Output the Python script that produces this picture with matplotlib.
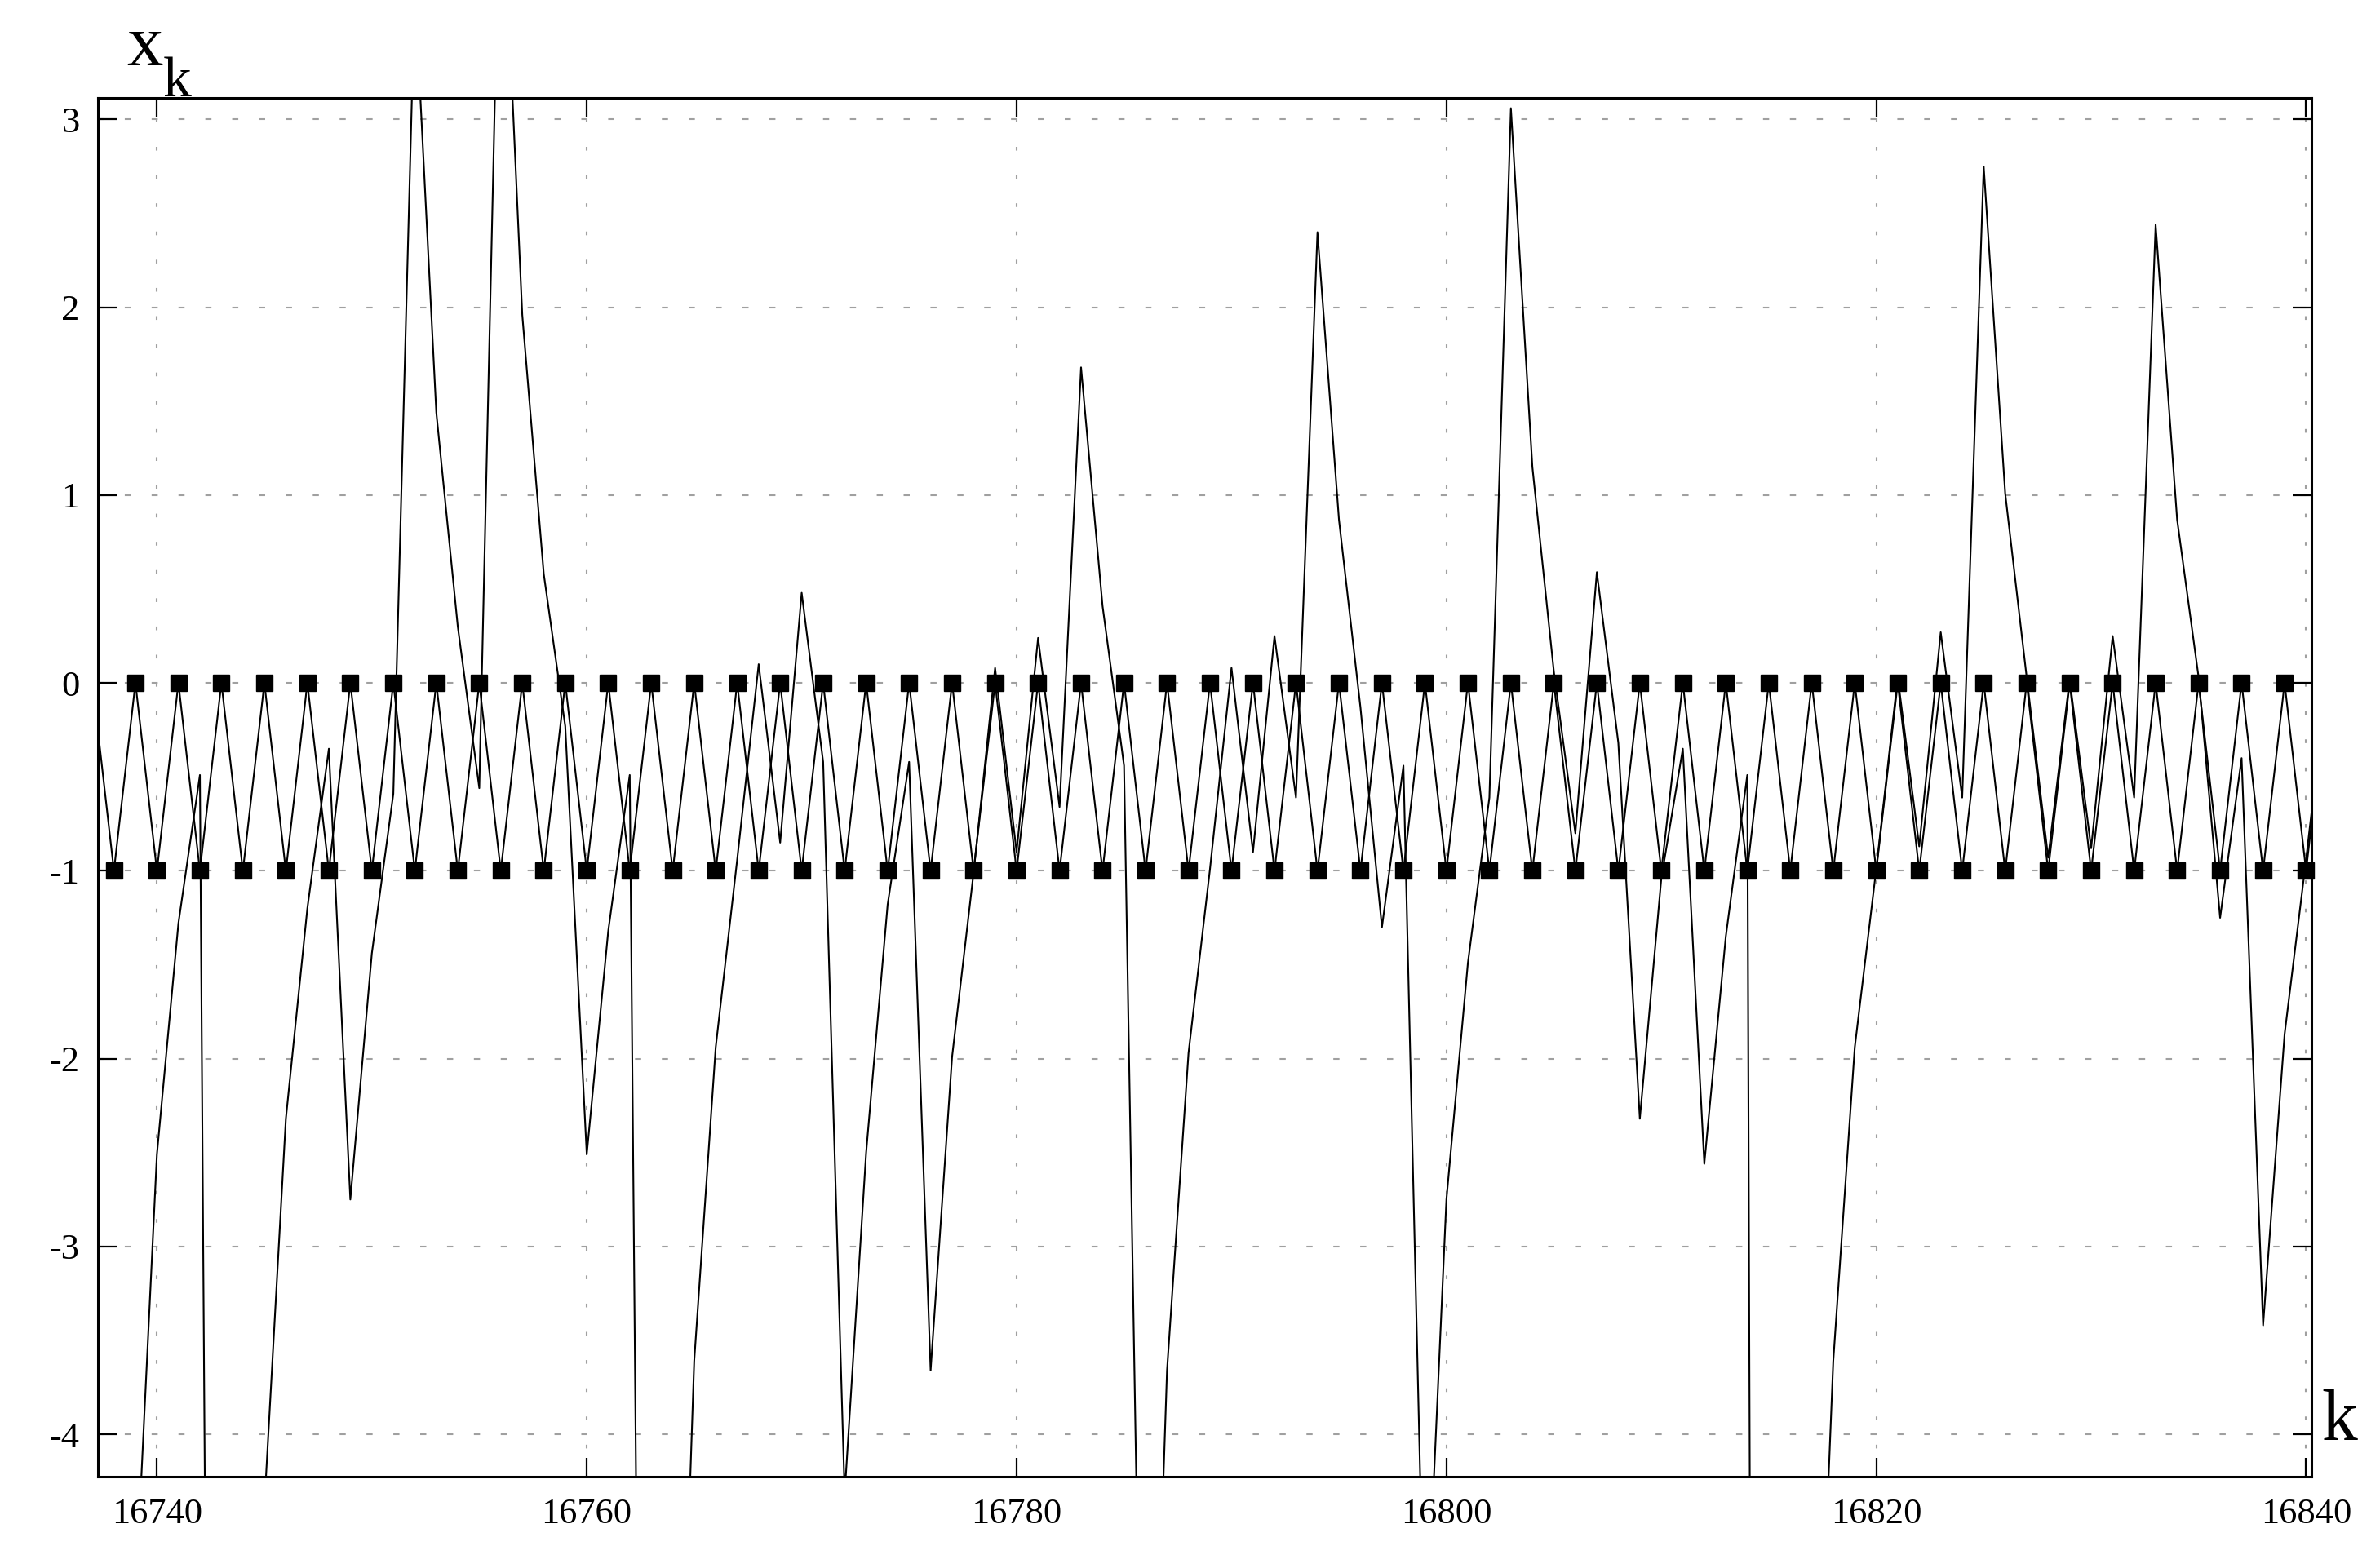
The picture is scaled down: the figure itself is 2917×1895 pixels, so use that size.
import numpy as np
import matplotlib
matplotlib.use("Agg")
import matplotlib.pyplot as plt

plt.rcParams['font.family'] = ['Liberation Serif', 'DejaVu Serif']
plt.rcParams['axes.unicode_minus'] = False

# iteration index k, first value at 16737
k_start = 16737

# periodic orbit (period 2), one value per k from 16737 to 16841
periodic = [0, -1, 0, -1, 0, -1, 0, -1, 0, -1, 0, -1, 0, -1, 0, -1, 0, -1, 0, -1,
            0, -1, 0, -1, 0, -1, 0, -1, 0, -1, 0, -1, 0, -1, 0, -1, 0, -1, 0, -1,
            0, -1, 0, -1, 0, -1, 0, -1, 0, -1, 0, -1, 0, -1, 0, -1, 0, -1, 0, -1,
            0, -1, 0, -1, 0, -1, 0, -1, 0, -1, 0, -1, 0, -1, 0, -1, 0, -1, 0, -1,
            0, -1, 0, -1, 0, -1, 0, -1, 0, -1, 0, -1, 0, -1, 0, -1, 0, -1, 0, -1,
            0, -1, 0, -1, 0]

# chaotic trajectory x_k, same k range (values far below the frame are off-axis)
chaotic = [-20, -9, -4.88, -2.51, -1.28, -0.49, -16.9, -7.5, -4.38, -2.32,
           -1.20, -0.35, -2.75, -1.44, -0.59, 3.7, 1.44, 0.30, -0.56, 4.5,
           1.96, 0.58, -0.23, -2.51, -1.32, -0.49, -13.3, -7.0, -3.61, -1.94,
           -0.94, 0.10, -0.85, 0.48, -0.42, -4.32, -2.5, -1.18, -0.42, -3.66,
           -1.99, -1.01, 0.08, -0.90, 0.24, -0.66, 1.68, 0.41, -0.44, -7.1,
           -3.66, -1.97, -0.99, 0.08, -0.90, 0.25, -0.61, 2.40, 0.87, -0.13,
           -1.30, -0.44, -5.3, -2.75, -1.49, -0.61, 3.06, 1.15, 0.06, -0.80,
           0.59, -0.32, -2.32, -1.04, -0.35, -2.56, -1.35, -0.49, -33, -15,
           -6.45, -3.61, -1.94, -0.99, 0.03, -0.87, 0.27, -0.61, 2.75, 1.01,
           0.03, -0.93, 0.02, -0.88, 0.25, -0.61, 2.44, 0.87, 0.03, -1.25,
           -0.40, -3.42, -1.87, -0.94, 0.05]

x_ticks = [16740, 16760, 16780, 16800, 16820, 16840]
y_ticks = [-4, -3, -2, -1, 0, 1, 2, 3]
x_lim = (16737.25, 16840.25)
y_lim = (-4.225, 3.115)

ks = np.arange(k_start, k_start + len(chaotic))
periodic = np.array(periodic)

fig = plt.figure(figsize=(29.17, 18.95), dpi=100)
ax = fig.add_axes([0.0411, 0.0449, 0.9301, 0.8918])

ax.plot(ks, chaotic, color='black', lw=1.5, zorder=3)
ax.plot(ks, periodic, color='black', lw=1.5, zorder=3)
inside = (ks >= x_lim[0]) & (ks <= x_lim[1])
ax.plot(ks[inside], periodic[inside], ls='none', marker='s', ms=15,
        color='black', clip_on=False, zorder=4)

ax.set_xlim(*x_lim)
ax.set_ylim(*y_lim)
ax.set_xticks(x_ticks)
ax.set_yticks(y_ticks)
ax.set_yticklabels([str(v) for v in y_ticks])

ax.xaxis.grid(True, color='#a0a0a0', lw=1.5, dashes=(2.2, 14.4))
ax.yaxis.grid(True, color='#a0a0a0', lw=1.5, dashes=(3.6, 12.2))
ax.set_axisbelow(True)

ax.tick_params(axis='both', direction='in', length=16.5, width=1.6,
               top=True, right=True, labelsize=32, colors='black')
ax.tick_params(axis='x', pad=19)
ax.tick_params(axis='y', pad=16)
for s in ax.spines.values():
    s.set_linewidth(2.2)

# axis labels placed like the original (x_k top-left, k at the right end)
fig.text(0.0531, 0.9578, 'x', fontsize=64, va='baseline', ha='left')
fig.text(0.0686, 0.9377, 'k', fontsize=50, va='baseline', ha='left')
fig.text(0.9753, 0.0686, 'k', fontsize=63, va='baseline', ha='left')

fig.savefig('out.png', dpi=100)
